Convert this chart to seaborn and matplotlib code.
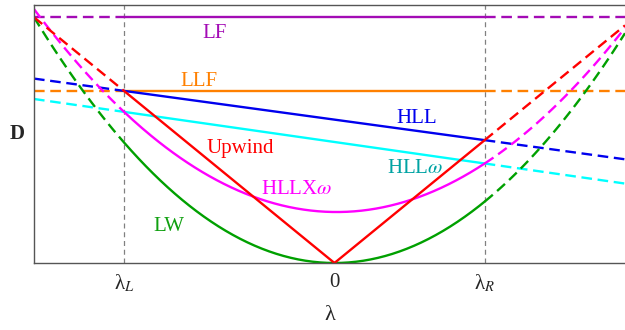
import numpy as np
import seaborn as sns
import matplotlib.pyplot as plt

# wave-speed interval and plot range
lam_L, lam_R = -1.4, 1.0
lam_min, lam_max = -2.0, 1.934

# curves as quadratic coefficients [a, b, c] of D = a*lam^2 + b*lam + c
lf_coef = [0.0, 0.0, 2.0]
llf_coef = [0.0, 0.0, 1.4]
hll_coef = [0.0, -0.167, 1.167]
hllw_coef = [0.0, -0.175, 0.985]
hllxw_coef = [0.407, -0.012, 0.415]
lw_coef = [0.5, 0.0, 0.0]

names = ["LF", "LLF", "HLL", "HLL$\\omega$", "HLLX$\\omega$", "LW"]
coefs = [lf_coef, llf_coef, hll_coef, hllw_coef, hllxw_coef, lw_coef]
line_colors = ["#a30bb5", "#ff8000", "#0000ee", "#00ffff", "#ff00ff", "#00a000"]
text_colors = ["#a30bb5", "#ff8000", "#0000ee", "#00a3a3", "#ff00ff", "#10a010"]
label_x = [-0.80, -0.90, 0.55, 0.54, -0.25, -1.10]
label_y = [1.87, 1.48, 1.18, 0.77, 0.60, 0.30]

upwind_label = ("Upwind", -0.63, 0.935)

sns.set_style("white")
plt.rcParams["font.family"] = ["Liberation Serif", "DejaVu Serif"]
plt.rcParams["mathtext.fontset"] = "stix"

fig = plt.figure(figsize=(6.25, 3.3), dpi=100)
ax = fig.add_axes([34 / 625, 67 / 330, 591 / 625, 258 / 330])

lw = 1.7
dash = (0, (4.5, 2.4))


def segments(f, color):
    left = np.linspace(lam_min, lam_L, 60)
    mid = np.linspace(lam_L, lam_R, 200)
    right = np.linspace(lam_R, lam_max, 60)
    sns.lineplot(x=left, y=f(left), ax=ax, color=color, lw=lw, ls=dash)
    sns.lineplot(x=mid, y=f(mid), ax=ax, color=color, lw=lw)
    sns.lineplot(x=right, y=f(right), ax=ax, color=color, lw=lw, ls=dash)


for name, c, col in zip(names, coefs, line_colors):
    segments(lambda x, c=c: np.polyval(c, x), col)

segments(np.abs, "#ff0000")

for name, col, x, y in zip(names, text_colors, label_x, label_y):
    ax.text(x, y, name, color=col, fontsize=15, ha="center", va="center")
ax.text(upwind_label[1], upwind_label[2], upwind_label[0], color="#ff0000",
        fontsize=15, ha="center", va="center")

for v in (lam_L, lam_R):
    ax.axvline(v, color="#808080", lw=0.9, ls=(0, (4, 3)), zorder=0)

ax.set_xlim(lam_min, lam_max)
ax.set_ylim(0, 2.1)
ax.set_xticks([lam_L, 0, lam_R])
ax.set_xticklabels(["λ$_L$", "0", "λ$_R$"], fontsize=15)
ax.set_yticks([])
ax.tick_params(axis="x", direction="in", length=3, color="#444444", pad=7)
ax.set_xlabel("λ", fontsize=16, labelpad=8)
ax.set_ylabel("D", fontsize=15, fontweight="bold", rotation=0, labelpad=12, va="center")

for side in ("left", "bottom", "top"):
    ax.spines[side].set_color("#555555")
    ax.spines[side].set_linewidth(1.0)
ax.spines["right"].set_visible(False)

fig.savefig("out.png", dpi=100)
